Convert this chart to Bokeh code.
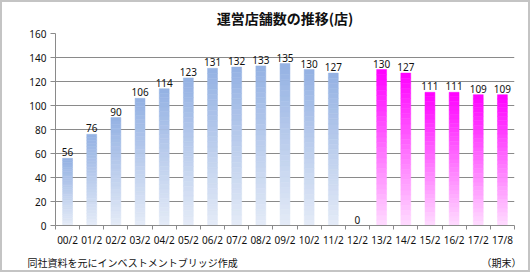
from bokeh.plotting import figure
from bokeh.models import FixedTicker, Range1d, LinearAxis
from bokeh.core.properties import value
from bokeh.embed import file_html
from bokeh.resources import INLINE

categories = ["00/2", "01/2", "02/2", "03/2", "04/2", "05/2", "06/2", "07/2", "08/2", "09/2",
              "10/2", "11/2", "12/2", "13/2", "14/2", "15/2", "16/2", "17/2", "17/8"]
stores = [56, 76, 90, 106, 114, 123, 131, 132, 133, 135, 130, 127, 0, 130, 127, 111, 111, 109, 109]
y_ticks = [0, 20, 40, 60, 80, 100, 120, 140, 160]
title_text = "運営店舗数の推移(店)"
source_text = "同社資料を元にインベストメントブリッジ作成"
unit_text = "（期末）"

BLUE_TOP, BLUE_BOT = (0x94, 0xb1, 0xe3), (0xe4, 0xeb, 0xf7)
MAG_TOP, MAG_BOT = (0xff, 0x00, 0xff), (0xff, 0xdc, 0xff)

def mix(a, b, t):
    return "#%02x%02x%02x" % tuple(int(round(a[k] + (b[k] - a[k]) * t)) for k in range(3))

FL, FR = 55, 514   # frame left / right in canvas pixels
NCAT = len(categories)

def px_to_x(px):
    return (px - FL) / (FR - FL) * NCAT

p = figure(width=530, height=272, output_backend="svg", toolbar_location=None,
           x_range=Range1d(0, NCAT), y_range=Range1d(0, 160),
           min_border_left=55, min_border_right=530 - FR, min_border_top=32, min_border_bottom=47)
p.outline_line_color = None
p.background_fill_color = "white"
p.border_fill_color = "white"

p.title.text = title_text
p.title.align = "center"
p.title.offset = -4
p.title.standoff = 11
p.title.text_font = "Noto Sans CJK JP"
p.title.text_font_style = "bold"
p.title.text_font_size = "14px"
p.title.text_color = "#111111"

xs = [i + 0.5 for i in range(NCAT)]
N = 30
for i, (x, v) in enumerate(zip(xs, stores)):
    if v <= 0:
        continue
    top_c, bot_c = (BLUE_TOP, BLUE_BOT) if i < 12 else (MAG_TOP, MAG_BOT)
    bottoms = [v * k / N for k in range(N)]
    tops = [v * (k + 1) / N for k in range(N)]
    cols = [mix(bot_c, top_c, (k + 0.5) / N) for k in range(N)]
    p.vbar(x=[x] * N, width=0.41, bottom=bottoms, top=tops, fill_color=cols, line_color=cols, line_width=0.5)

p.text(x=xs, y=stores, text=[str(v) for v in stores], text_align="center", text_baseline="bottom",
       y_offset=-2, text_font=value("Noto Sans"), text_font_size="10px", text_color="#111111")

p.xgrid.grid_line_color = None
p.ygrid.ticker = FixedTicker(ticks=y_ticks)
p.ygrid.grid_line_color = "#8a8a8a"

p.yaxis.ticker = FixedTicker(ticks=y_ticks)
p.yaxis.axis_line_color = "#8a8a8a"
p.yaxis.major_tick_line_color = "#8a8a8a"
p.yaxis.major_tick_out = 5
p.yaxis.major_tick_in = 0
p.yaxis.minor_tick_line_color = None
p.yaxis.major_label_standoff = 4
p.yaxis.major_label_text_font = "Noto Sans"
p.yaxis.major_label_text_font_size = "10px"
p.yaxis.major_label_text_color = "#111111"

p.xaxis.ticker = FixedTicker(ticks=xs, minor_ticks=list(range(NCAT + 1)))
p.xaxis.major_label_overrides = {x: c for x, c in zip(xs, categories)}
p.xaxis.axis_line_color = "#8a8a8a"
p.xaxis.major_tick_line_color = None
p.xaxis.major_tick_out = 4
p.xaxis.minor_tick_line_color = "#8a8a8a"
p.xaxis.minor_tick_out = 4
p.xaxis.minor_tick_in = 0
p.xaxis.major_label_standoff = 3
p.xaxis.major_label_text_font = "Noto Sans"
p.xaxis.major_label_text_font_size = "10px"
p.xaxis.major_label_text_color = "#111111"

# footnote row: source note (left) and period note (right) as labels of a bare second axis
src_x, unit_x = px_to_x(132), px_to_x(501)
note_axis = LinearAxis(ticker=FixedTicker(ticks=[src_x, unit_x]),
                       major_label_overrides={src_x: source_text, unit_x: unit_text},
                       axis_line_color=None, major_tick_line_color=None, minor_tick_line_color=None,
                       major_tick_out=0, major_tick_in=0, major_label_standoff=5,
                       major_label_text_font="Noto Sans CJK JP", major_label_text_font_size="10px",
                       major_label_text_color="#111111")
p.add_layout(note_axis, "below")

html = file_html(p, INLINE)
frame_div = ('<div style="position:fixed;left:0;top:0;width:530px;height:272px;box-sizing:border-box;'
             'border:2px solid #c4c4c4;pointer-events:none;z-index:10"></div>')
html = html.replace("</body>", frame_div + "</body>")
open("out.html", "w").write(html)
